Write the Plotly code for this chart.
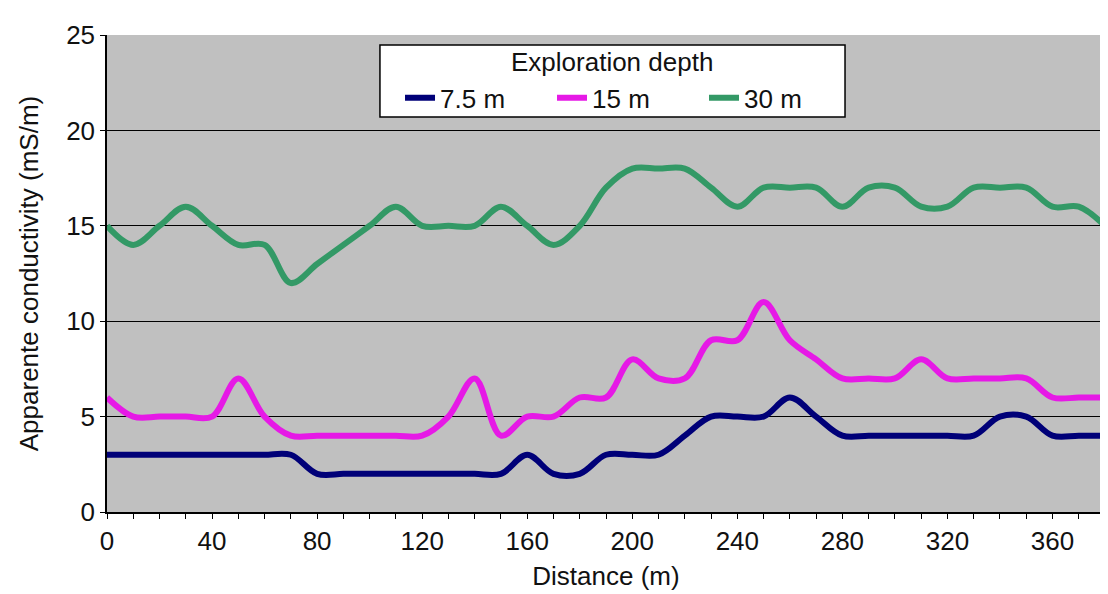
import plotly.graph_objects as go

distance = list(range(0, 390, 10))

depth_7_5 = [3, 3, 3, 3, 3, 3, 3, 3, 2, 2,
             2, 2, 2, 2, 2, 2, 3, 2, 2, 3,
             3, 3, 4, 5, 5, 5, 6, 5, 4, 4,
             4, 4, 4, 4, 5, 5, 4, 4, 4]

depth_15 = [6, 5, 5, 5, 5, 7, 5, 4, 4, 4,
            4, 4, 4, 5, 7, 4, 5, 5, 6, 6,
            8, 7, 7, 9, 9, 11, 9, 8, 7, 7,
            7, 8, 7, 7, 7, 7, 6, 6, 6]

depth_30 = [15, 14, 15, 16, 15, 14, 14, 12, 13, 14,
            15, 16, 15, 15, 15, 16, 15, 14, 15, 17,
            18, 18, 18, 17, 16, 17, 17, 17, 16, 17,
            17, 16, 16, 17, 17, 17, 16, 16, 15]

series_names = ["7.5 m", "15 m", "30 m"]
series_colors = ["#000078", "#e619e6", "#339966"]
x_tick_labels = [str(v) for v in range(0, 400, 40)]
y_tick_labels = [str(v) for v in range(0, 30, 5)]
legend_title = "Exploration depth"

FONT = "Liberation Sans, Arial, sans-serif"
FS = 26

fig = go.Figure()
for name, vals, col in zip(series_names, [depth_7_5, depth_15, depth_30], series_colors):
    fig.add_trace(go.Scatter(
        x=distance, y=vals, name=name, mode="lines",
        line=dict(color=col, width=6, shape="spline", smoothing=1),
    ))

# legend box
fig.add_shape(type="rect", xref="paper", yref="paper",
              x0=0.2735, x1=0.7395, y0=0.828, y1=0.979,
              fillcolor="white", line=dict(color="black", width=1.5), layer="above")
fig.add_annotation(text=legend_title, xref="paper", yref="paper",
                   x=0.506, y=0.943, xanchor="center", yanchor="middle",
                   showarrow=False, font=dict(family=FONT, size=FS, color="#111111"))

# right border of the plot area (thin grey)
fig.add_shape(type="line", xref="paper", yref="paper",
              x0=1, x1=1, y0=0, y1=1, line=dict(color="#8c8c8c", width=1.5))

# page has an 8px body margin, so the figure is offset by 8px
fig.update_layout(
    width=1100, height=586,
    margin=dict(l=99, r=3, t=27, b=82),
    paper_bgcolor="white",
    plot_bgcolor="#c0c0c0",
    font=dict(family=FONT, size=FS, color="#111111"),
    showlegend=True,
    legend=dict(
        orientation="h",
        x=0.2936, y=0.868, xanchor="left", yanchor="middle",
        bgcolor="rgba(0,0,0,0)", borderwidth=0,
        font=dict(family=FONT, size=FS),
        entrywidth=107, entrywidthmode="pixels",
        itemwidth=30,
    ),
)

fig.update_xaxes(
    range=[0, 380],
    tickvals=list(range(0, 400, 40)),
    ticktext=x_tick_labels,
    ticks="outside", ticklen=5, tickcolor="black", tickwidth=1,
    minor=dict(dtick=10, tick0=0, ticks="outside", ticklen=5,
               tickcolor="black", tickwidth=1, showgrid=False),
    showline=True, linecolor="black", linewidth=1.5,
    showgrid=False, zeroline=False, automargin=False,
    title=dict(text="Distance (m)", font=dict(family=FONT, size=FS), standoff=12),
    tickfont=dict(family=FONT, size=FS),
)

fig.update_yaxes(
    range=[0, 25],
    tickvals=list(range(0, 30, 5)),
    ticktext=y_tick_labels,
    ticks="outside", ticklen=5, tickcolor="black", tickwidth=1,
    showline=True, linecolor="black", linewidth=1.5,
    showgrid=True, gridcolor="black", gridwidth=1.2,
    zeroline=False, automargin=False,
    title=dict(text="Apparente conductivity (mS/m)", font=dict(family=FONT, size=FS), standoff=20),
    tickfont=dict(family=FONT, size=FS),
)

fig.write_html("out.html")
